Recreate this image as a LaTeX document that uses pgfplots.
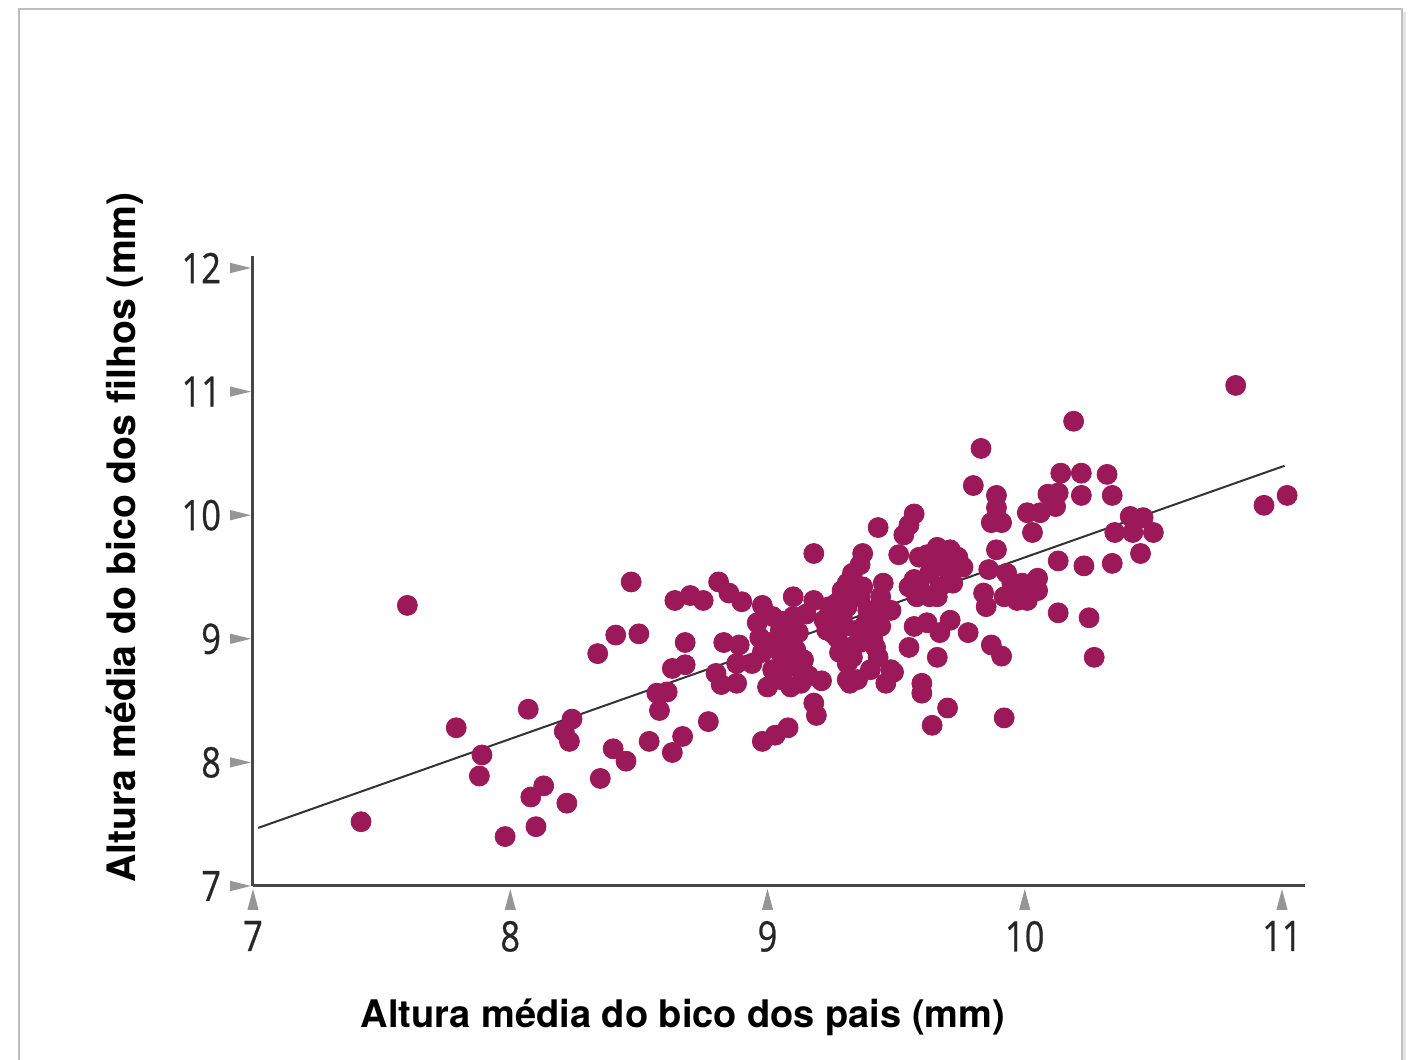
\documentclass[border=0pt]{standalone}
\usepackage{pgfplots}
\pgfplotsset{compat=1.18}
\usepackage{fontspec}
\setmainfont{TeX Gyre Heros}
\newfontfamily\tickfont[FakeStretch=0.82,FakeBold=0.6]{Open Sans}
\definecolor{dotcol}{RGB}{155,25,89}
\definecolor{tickgray}{RGB}{150,150,150}
\definecolor{axisgray}{RGB}{70,70,70}
\begin{document}
\begin{tikzpicture}
\useasboundingbox (0,0) rectangle (705pt,530pt);
\fill[white] (0,0) rectangle (705pt,530pt);
\draw[black!10, line width=1.4pt] (702.2pt,-5pt) -- (702.2pt,524pt);
\draw[black!25, line width=0.6pt] (9.5pt,-5pt) -- (9.5pt,525.5pt) -- (701pt,525.5pt) -- (701pt,-5pt);
\begin{axis}[
  at={(126.5pt,87pt)}, anchor=south west,
  x=128.625pt, y=61.8pt,
  xmin=7, xmax=11.09, ymin=7, ymax=12.1,
  axis x line*=bottom, axis y line*=left,
  axis line style={-, draw=axisgray, line width=1.5pt},
  xtick={7,8,9,10,11}, ytick={7,8,9,10,11,12},
  major tick length=0pt, tick style={draw=none},
  clip=false,
  xticklabel style={anchor=north, inner sep=0pt, outer sep=0pt, yshift=-1.5pt},
  yticklabel style={anchor=east, inner sep=0pt, outer sep=0pt, xshift=-1pt},
  xticklabel={\tikz{\fill[tickgray] (-2.8pt,0)--(2.8pt,0)--(0,10.5pt)--cycle; \node[anchor=north, inner sep=0pt, text=black!85] at (0,-4pt) {\fontsize{21}{21}\tickfont\pgfmathprintnumber[assume math mode=true]{\tick}};}},
  yticklabel={\tikz{\fill[tickgray] (0,-2.6pt)--(0,2.6pt)--(10.5pt,0)--cycle; \node[anchor=east, inner sep=0pt, text=black!85] at (-3.5pt,0) {\fontsize{21}{21}\tickfont\pgfmathprintnumber[assume math mode=true]{\tick}};}},
  xlabel={Altura média do bico dos pais (mm)},
  ylabel={Altura média do bico dos filhos (mm)},
  xlabel style={at={(axis description cs:0.4087,-0.2237)}, anchor=base, inner sep=0pt, font=\fontsize{19}{22}\selectfont\bfseries},
  ylabel style={at={(axis description cs:-0.1121,0.5528)}, rotate=0, anchor=base, inner sep=0pt, font=\fontsize{19.6}{22}\selectfont\bfseries},
]
\addplot[no marks, draw=black!80, line width=1pt] coordinates {(7.02,7.47) (11.01,10.40)};
\addplot[only marks, color=dotcol, mark=*, mark size=5pt, mark options={solid, draw=none, fill=dotcol}] table {
x y
7.42 7.52
7.60 9.27
7.79 8.28
7.89 8.06
7.88 7.89
7.98 7.40
8.07 8.43
8.08 7.72
8.13 7.81
8.10 7.48
8.22 7.67
8.21 8.25
8.24 8.35
8.23 8.17
8.34 8.88
8.35 7.87
8.40 8.11
8.45 8.01
8.41 9.03
8.50 9.04
8.47 9.46
8.54 8.17
8.57 8.56
8.61 8.57
8.58 8.42
8.63 8.08
8.67 8.21
8.63 8.76
8.68 8.79
8.68 8.97
8.64 9.31
8.70 9.35
8.75 9.31
8.77 8.33
8.80 8.72
8.82 8.63
8.88 8.64
8.88 8.80
8.83 8.97
8.89 8.95
8.81 9.46
8.85 9.37
8.90 9.30
8.98 8.17
9.03 8.22
9.08 8.28
9.18 8.48
9.19 8.38
8.98 9.27
9.02 9.18
9.06 9.14
8.96 9.13
8.97 9.01
9.01 8.97
9.08 9.01
8.98 8.89
9.05 8.89
9.11 8.91
9.14 8.83
9.08 8.77
9.02 8.75
9.13 8.75
9.21 8.66
9.05 8.67
9.09 8.61
9.00 8.61
9.13 8.64
9.10 9.34
9.18 9.31
9.24 9.26
9.22 9.15
9.23 9.07
9.27 9.01
9.28 8.89
9.31 8.80
9.31 8.67
9.35 8.67
9.33 8.85
9.36 8.97
9.31 9.45
9.33 9.53
9.29 9.39
9.36 9.34
9.39 9.23
9.18 9.69
9.05 9.07
9.12 9.05
9.15 9.20
8.94 8.80
9.16 8.70
9.10 9.18
9.38 9.12
9.42 8.93
9.30 9.10
9.43 9.90
9.57 10.01
9.55 9.92
9.53 9.84
9.51 9.68
9.37 9.69
9.36 9.60
9.27 9.29
9.31 9.26
9.24 9.15
9.37 9.42
9.45 9.45
9.44 9.34
9.48 9.23
9.44 9.10
9.41 8.99
9.35 9.07
9.32 8.93
9.40 8.75
9.48 8.75
9.32 8.64
9.46 8.64
9.55 9.42
9.59 9.42
9.63 9.34
9.67 9.42
9.70 9.56
9.66 9.74
9.59 9.66
9.74 9.66
9.76 9.58
9.72 9.45
9.57 9.10
9.62 9.13
9.71 9.15
9.67 9.05
9.55 8.93
9.66 8.85
9.78 9.05
9.60 8.64
9.60 8.56
9.70 8.44
9.64 8.30
9.71 9.72
9.66 9.61
9.63 9.53
9.62 9.68
9.57 9.48
9.58 9.34
9.66 9.34
9.43 8.85
9.49 8.73
9.29 9.18
9.25 9.05
9.44 9.21
10.82 11.05
10.19 10.76
9.83 10.54
9.80 10.24
10.14 10.34
10.22 10.34
10.32 10.33
10.09 10.17
10.13 10.18
10.22 10.16
10.34 10.16
10.12 10.07
10.01 10.02
10.06 10.02
10.03 9.86
9.89 10.16
9.89 10.06
9.87 9.94
9.91 9.94
10.93 10.08
11.02 10.16
10.41 9.99
10.46 9.98
10.35 9.86
10.42 9.86
10.50 9.86
10.45 9.69
10.13 9.63
10.23 9.59
10.34 9.61
9.89 9.72
9.86 9.56
9.93 9.53
10.05 9.49
10.05 9.39
9.99 9.45
9.84 9.37
9.85 9.26
9.92 9.34
9.97 9.31
10.01 9.31
10.13 9.21
10.25 9.17
9.87 8.95
9.91 8.86
10.27 8.85
9.92 8.36
9.95 9.45
};
\end{axis}
\end{tikzpicture}
\end{document}
